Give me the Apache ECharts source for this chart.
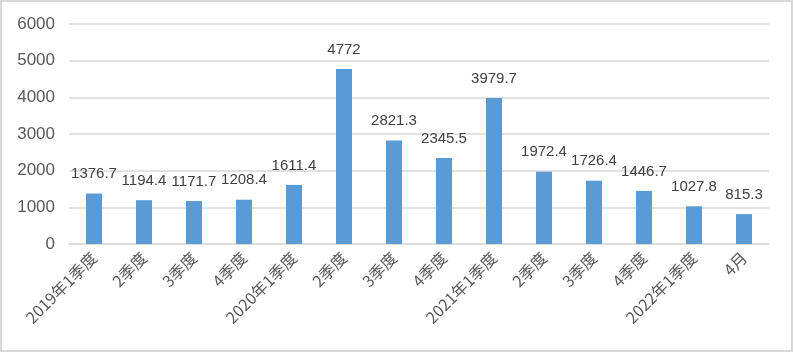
<!DOCTYPE html>
<html><head><meta charset="utf-8">
<script src="https://cdn.jsdelivr.net/npm/echarts@6/dist/echarts.min.js"></script>
<style>html,body{margin:0;padding:0;background:#fff}#c{width:793px;height:352px;box-sizing:border-box;border:2px solid #d9d9d9}</style>
</head><body><div id="c"></div>
<script>
const categories = ['2019年1季度','2季度','3季度','4季度','2020年1季度','2季度','3季度','4季度','2021年1季度','2季度','3季度','4季度','2022年1季度','4月'];
const values = [1376.7,1194.4,1171.7,1208.4,1611.4,4772,2821.3,2345.5,3979.7,1972.4,1726.4,1446.7,1027.8,815.3];
const yTicks = [0,1000,2000,3000,4000,5000,6000];
const chart = echarts.init(document.getElementById('c'));
const font = '"Noto Sans CJK SC", "Liberation Sans", sans-serif';
chart.setOption({
  animation:false,
  grid:{left:67,right:22,top:22,bottom:106},
  xAxis:{type:'category',data:categories,
    axisLine:{lineStyle:{color:'#d9d9d9',width:1.5}},axisTick:{show:false},
    axisLabel:{rotate:45,interval:0,color:'#595959',fontSize:16,fontFamily:font,margin:11}},
  yAxis:{type:'value',min:yTicks[0],max:yTicks[yTicks.length-1],interval:1000,
    axisLine:{show:false},axisTick:{show:false},
    splitLine:{lineStyle:{color:'#d9d9d9',width:1.5}},
    axisLabel:{color:'#595959',fontSize:17,fontFamily:'"Liberation Sans", sans-serif',margin:14,formatter:v=>String(v)}},
  series:[{type:'bar',data:values,barWidth:16,itemStyle:{color:'#5b9bd5'},
    label:{show:true,position:'top',distance:12,color:'#404040',fontSize:15,fontFamily:'"Liberation Sans", sans-serif'}}]
});
</script></body></html>
